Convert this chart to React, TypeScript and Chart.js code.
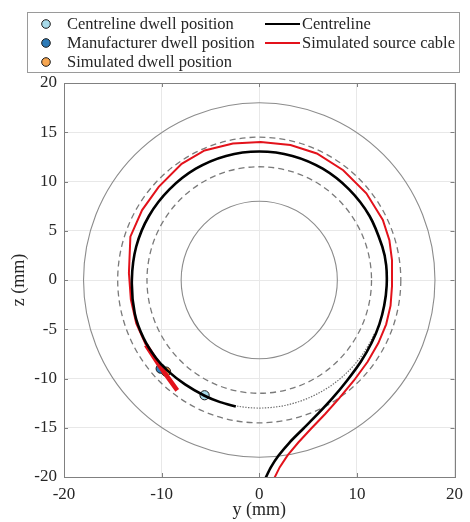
import React, { useEffect, useRef } from "react";
import { Chart, registerables } from "chart.js";

Chart.register(...registerables);

// ---- axis ticks ----
const xTicks = [-20, -10, 0, 10, 20];
const yTicks = [-20, -15, -10, -5, 0, 5, 10, 15, 20];

// ---- centreline (y, z) in mm ----
const centrelineY = [0.65, 1.2, 2.0, 3.1, 4.5, 6.0, 7.5, 9.0, 10.4, 11.5, 12.3, 12.8, 13.05, 13.0, 12.6, 11.3, 9.2, 6.5, 3.4, 0, -3.4, -6.5, -9.2, -11.3, -12.6, -13.05, -12.75, -11.85, -10.6, -9.4, -7.6, -5.6, -4.0, -2.4];
const centrelineZ = [-20.1, -19.0, -17.8, -16.5, -15.1, -13.6, -12.0, -10.2, -8.3, -6.4, -4.5, -2.6, -0.6, 1.5, 3.4, 6.5, 9.2, 11.3, 12.6, 13.05, 12.6, 11.3, 9.2, 6.5, 3.4, 0, -3.4, -5.9, -7.9, -9.2, -10.6, -11.75, -12.4, -12.85];

// ---- simulated source cable (y, z) in mm ----
const cableY = [1.55, 2.1, 2.9, 4.0, 5.3, 6.75, 8.2, 9.7, 11.1, 12.2, 13.0, 13.45, 13.6, 13.6, 13.33, 12.66, 10.97, 8.6, 5.9, 3.2, 0.15, -2.7, -5.6, -7.95, -10.3, -12.0, -13.2, -13.35, -13.15, -12.6, -11.6];
const cableZ = [-20.1, -19.0, -17.8, -16.5, -15.1, -13.6, -12.0, -10.2, -8.3, -6.4, -4.5, -2.6, -0.6, 2.0, 4.05, 6.1, 8.8, 11.15, 12.85, 13.7, 14.0, 13.85, 13.15, 11.8, 9.45, 7.1, 4.4, 0.7, -2.0, -4.4, -6.6];
const cableTipY = [-11.6, -10.15, -8.4];
const cableTipZ = [-6.6, -8.8, -11.2];

// ---- dwell positions ----
const centrelineDwellY = [-5.6];
const centrelineDwellZ = [-11.7];
const manufacturerDwellY = [-10.1];
const manufacturerDwellZ = [-9.0];
const simulatedDwellY = [-9.55];
const simulatedDwellZ = [-9.3];

// ---- reference rings (radius, mm) ----
const solidRadii = [8, 18];
const dashedRadii = [11.5, 14.5];
const dottedArcRadius = 13;
const dottedArcDegrees = [-100, -25];

const FONT = "'Liberation Serif', 'Times New Roman', serif";
const TEXT = "#262626";

const toPts = (xs: number[], ys: number[]) => xs.map((v, i) => ({ x: v, y: ys[i] }));

const ringsPlugin = {
  id: "rings",
  beforeDatasetsDraw(chart: any) {
    const { ctx, chartArea, scales } = chart;
    const sx = scales.x, sy = scales.y;
    const cx = sx.getPixelForValue(0);
    const cy = sy.getPixelForValue(0);
    const rx = (r: number) => sx.getPixelForValue(r) - cx;
    const ry = (r: number) => cy - sy.getPixelForValue(r);
    ctx.save();
    ctx.beginPath();
    ctx.rect(chartArea.left, chartArea.top, chartArea.right - chartArea.left, chartArea.bottom - chartArea.top);
    ctx.clip();
    ctx.strokeStyle = "#8c8c8c";
    ctx.lineWidth = 1.1;
    ctx.setLineDash([]);
    solidRadii.forEach((r) => {
      ctx.beginPath();
      ctx.ellipse(cx, cy, rx(r), ry(r), 0, 0, Math.PI * 2);
      ctx.stroke();
    });
    ctx.strokeStyle = "#7a7a7a";
    ctx.lineWidth = 1.3;
    ctx.setLineDash([6, 4]);
    dashedRadii.forEach((r) => {
      ctx.beginPath();
      ctx.ellipse(cx, cy, rx(r), ry(r), 0, 0, Math.PI * 2);
      ctx.stroke();
    });
    ctx.strokeStyle = "#6e6e6e";
    ctx.lineWidth = 1.2;
    ctx.setLineDash([1.4, 1.4]);
    ctx.beginPath();
    const a0 = (-dottedArcDegrees[1] * Math.PI) / 180;
    const a1 = (-dottedArcDegrees[0] * Math.PI) / 180;
    ctx.ellipse(cx, cy, rx(dottedArcRadius), ry(dottedArcRadius), 0, a0, a1);
    ctx.stroke();
    ctx.restore();
  },
};

const boxPlugin = {
  id: "box",
  afterDatasetsDraw(chart: any) {
    const { ctx, chartArea, scales } = chart;
    const { left, right, top, bottom } = chartArea;
    ctx.save();
    ctx.strokeStyle = "#808080";
    ctx.lineWidth = 1;
    ctx.setLineDash([]);
    ctx.strokeRect(Math.round(left) + 0.5, Math.round(top) + 0.5, Math.round(right - left), Math.round(bottom - top));
    const tl = 4;
    ctx.beginPath();
    yTicks.forEach((v) => {
      const p = Math.round(scales.y.getPixelForValue(v)) + 0.5;
      ctx.moveTo(left, p); ctx.lineTo(left + tl, p);
      ctx.moveTo(right, p); ctx.lineTo(right - tl, p);
    });
    xTicks.forEach((v) => {
      const p = Math.round(scales.x.getPixelForValue(v)) + 0.5;
      ctx.moveTo(p, bottom); ctx.lineTo(p, bottom - tl);
      ctx.moveTo(p, top); ctx.lineTo(p, top + tl);
    });
    ctx.stroke();
    ctx.restore();
  },
};

const legendPlugin = {
  id: "customLegend",
  afterDraw(chart: any) {
    const { ctx } = chart;
    const ds = chart.data.datasets;
    ctx.save();
    ctx.fillStyle = "#ffffff";
    ctx.fillRect(27, 12, 433, 61);
    ctx.strokeStyle = "#9a9a9a";
    ctx.lineWidth = 1;
    ctx.strokeRect(27.5, 12.5, 432, 60);
    ctx.font = `16.5px ${FONT}`;
    ctx.textBaseline = "middle";
    ctx.textAlign = "left";
    const rows = [24, 43, 62];
    [3, 4, 5].forEach((idx, i) => {
      const d = ds[idx];
      ctx.beginPath();
      ctx.arc(46, rows[i], 4.3, 0, Math.PI * 2);
      ctx.fillStyle = d.backgroundColor;
      ctx.fill();
      ctx.strokeStyle = "#1a1a1a";
      ctx.lineWidth = 1;
      ctx.stroke();
      ctx.fillStyle = TEXT;
      ctx.fillText(d.label, 67, rows[i] + 1);
    });
    [0, 1].forEach((idx, i) => {
      const d = ds[idx];
      ctx.beginPath();
      ctx.moveTo(265, rows[i]);
      ctx.lineTo(300, rows[i]);
      ctx.strokeStyle = d.borderColor;
      ctx.lineWidth = 2.2;
      ctx.stroke();
      ctx.fillStyle = TEXT;
      ctx.fillText(d.label, 302, rows[i] + 1);
    });
    ctx.restore();
  },
};

export default function App() {
  const ref = useRef<HTMLCanvasElement | null>(null);
  useEffect(() => {
    if (!ref.current) return;
    const lineDs = (label: string, xs: number[], ys: number[], color: string, width: number, tension: number) => ({
      type: "line" as const,
      label,
      data: toPts(xs, ys),
      borderColor: color,
      backgroundColor: color,
      borderWidth: width,
      pointRadius: 0,
      tension,
      showLine: true,
      fill: false,
    });
    const ptDs = (label: string, xs: number[], ys: number[], color: string) => ({
      type: "scatter" as const,
      label,
      data: toPts(xs, ys),
      backgroundColor: color,
      borderColor: "#1a1a1a",
      borderWidth: 1,
      pointRadius: 4.6,
      showLine: false,
    });
    const chart = new Chart(ref.current, {
      type: "scatter",
      data: {
        datasets: [
          lineDs("Centreline", centrelineY, centrelineZ, "#000000", 2.6, 0.3),
          lineDs("Simulated source cable", cableY, cableZ, "#e3121b", 2, 0),
          lineDs("Simulated source cable tip", cableTipY, cableTipZ, "#e3121b", 4.5, 0),
          ptDs("Centreline dwell position", centrelineDwellY, centrelineDwellZ, "#a8dbea"),
          ptDs("Manufacturer dwell position", manufacturerDwellY, manufacturerDwellZ, "#2d7bb8"),
          ptDs("Simulated dwell position", simulatedDwellY, simulatedDwellZ, "#f7a650"),
        ] as any,
      },
      options: {
        responsive: false,
        animation: false,
        layout: { padding: { top: 83, right: 11, left: 0, bottom: 0 } },
        plugins: { legend: { display: false }, tooltip: { enabled: false } },
        scales: {
          x: {
            type: "linear",
            min: -20,
            max: 20,
            afterBuildTicks: (s: any) => { s.ticks = xTicks.map((v) => ({ value: v })); },
            afterFit: (s: any) => { s.height = 45; },
            grid: { color: "#e8e8e8", drawTicks: false },
            border: { display: false },
            ticks: { font: { family: FONT, size: 17 }, color: TEXT, padding: 7, maxRotation: 0, autoSkip: false },
            title: { display: true, text: "y (mm)", font: { family: FONT, size: 18 }, color: TEXT, padding: { top: 0, bottom: 1 } },
          },
          y: {
            type: "linear",
            min: -20,
            max: 20,
            afterBuildTicks: (s: any) => { s.ticks = yTicks.map((v) => ({ value: v })); },
            afterFit: (s: any) => { s.width = 64; },
            grid: { color: "#e8e8e8", drawTicks: false },
            border: { display: false },
            ticks: { font: { family: FONT, size: 17 }, color: TEXT, padding: 7, autoSkip: false },
            title: { display: true, text: "z (mm)", font: { family: FONT, size: 18 }, color: TEXT, padding: { top: 8, bottom: 0 } },
          },
        },
      } as any,
      plugins: [ringsPlugin, boxPlugin, legendPlugin],
    });
    return () => chart.destroy();
  }, []);
  return (
    <div style={{ position: "absolute", left: 0, top: 0, width: 470, height: 522, background: "#fff" }}>
      <canvas ref={ref} width={470} height={522} style={{ width: 470, height: 522, display: "block" }} />
    </div>
  );
}
